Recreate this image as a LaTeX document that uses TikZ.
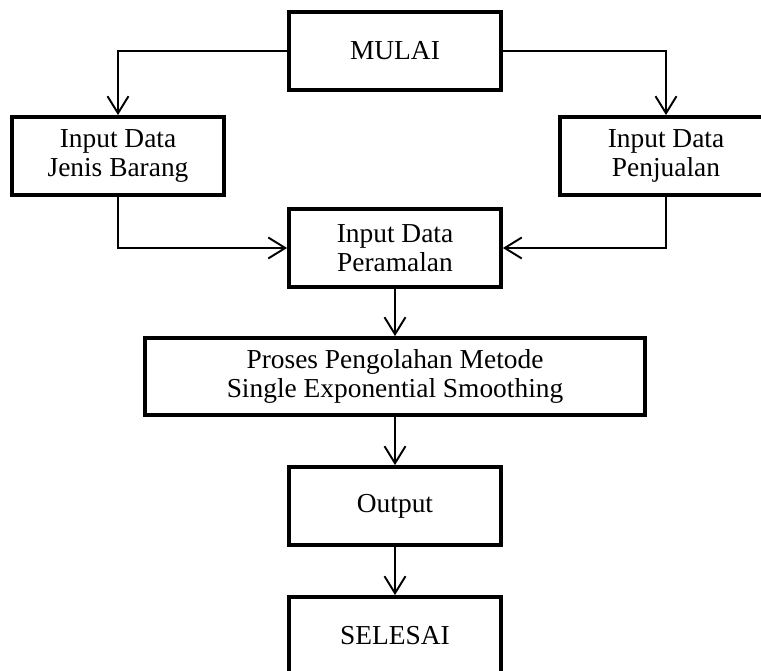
\documentclass[tikz,border=0pt]{standalone}
\usepackage{fontspec}
\setmainfont{Liberation Serif}
\usepackage{tikz}
\usetikzlibrary{arrows.meta,positioning}

\begin{document}
\begin{tikzpicture}[x=0.02cm, y=-0.02cm,
    proc/.style={draw=black, line width=2.2pt, fill=white, minimum width=4.24cm, minimum height=1.56cm, inner sep=0pt, align=center, font=\fontsize{15.6}{16.5}\selectfont},
    arr/.style={-{Straight Barb[length=3.4mm, width=4.2mm, line width=1.1pt]}, line width=1.1pt, draw=black}
  ]
    \clip (0,0) rectangle (761,671);

    \node[proc] (mulai) at (395, 51) {MULAI};
    \node[proc] (jenis) at (118, 156) {Input Data\\Jenis Barang};
    \node[proc] (jual) at (666, 156) {Input Data\\Penjualan};
    \node[proc] (ramal) at (395, 248) {Input Data\\Peramalan};
    \node[proc, minimum width=10cm, minimum height=1.54cm] (proses) at (395, 376.5) {Proses Pengolahan Metode\\Single Exponential Smoothing};
    \node[proc] (output) at (395, 506) {Output};
    \node[proc] (selesai) at (395, 636) {SELESAI};

    \draw[arr] (mulai.west) -| (jenis.north);
    \draw[arr] (mulai.east) -| (jual.north);
    \draw[arr] (jenis.south) |- (ramal.west);
    \draw[arr] (jual.south) |- (ramal.east);
    \draw[arr] (ramal) -- (proses);
    \draw[arr] (proses) -- (output);
    \draw[arr] (output) -- (selesai);
  \end{tikzpicture}
\end{document}
